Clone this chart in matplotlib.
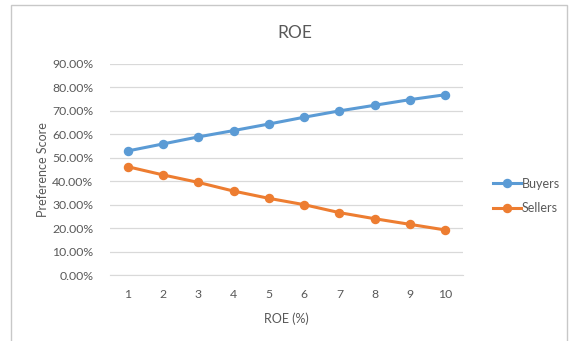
import matplotlib
matplotlib.use("Agg")
import matplotlib.pyplot as plt
from matplotlib.ticker import PercentFormatter
from matplotlib.patches import Rectangle

roe = [1, 2, 3, 4, 5, 6, 7, 8, 9, 10]
buyers = [0.529, 0.559, 0.589, 0.616, 0.644, 0.673, 0.700, 0.724, 0.748, 0.769]
sellers = [0.462, 0.427, 0.395, 0.358, 0.327, 0.300, 0.266, 0.240, 0.216, 0.192]
y_ticks = [0.0, 0.1, 0.2, 0.3, 0.4, 0.5, 0.6, 0.7, 0.8, 0.9]

plt.rcParams['font.family'] = ['Lato', 'DejaVu Sans']
grey_text = "#595959"

fig = plt.figure(figsize=(5.75, 3.41), dpi=100)
fig.patch.set_facecolor("white")

# chart frame (bottom edge runs off the image)
fig.patches.append(Rectangle((11 / 575, -0.1), 556 / 575, 1.1 - 5 / 341,
                             transform=fig.transFigure, fill=False,
                             edgecolor="#c8c8c8", linewidth=1.0))

ax = fig.add_axes([110 / 575, 66 / 341, 353 / 575, 211 / 341])
ax.plot(roe, buyers, color="#5B9BD5", lw=2.2, marker="o", ms=5.8, label="Buyers")
ax.plot(roe, sellers, color="#ED7D31", lw=2.2, marker="o", ms=5.8, label="Sellers")

ax.set_xlim(0.5, 10.5)
ax.set_ylim(0, 0.9)
ax.set_yticks(y_ticks)
ax.yaxis.set_major_formatter(PercentFormatter(1.0, decimals=2))
ax.set_xticks(roe)
ax.grid(axis="y", color="#d9d9d9", lw=0.9)
ax.set_axisbelow(True)
for side in ["top", "right", "left"]:
    ax.spines[side].set_visible(False)
ax.spines["bottom"].set_color("#d9d9d9")
ax.tick_params(length=0, labelsize=8.8, labelcolor=grey_text)
ax.tick_params(axis="x", pad=10)
ax.tick_params(axis="y", pad=12)

ax.set_xlabel("ROE (%)", fontsize=9, color=grey_text, labelpad=9)
ax.set_ylabel("Preference Score", fontsize=9, color=grey_text, labelpad=2)
fig.text(295 / 575, 1 - 33 / 341, "ROE", ha="center", va="center",
         fontsize=12.5, color=grey_text)

ax.legend(loc="center left", bbox_to_anchor=(482 / 575, 1 - 196 / 341),
          bbox_transform=fig.transFigure, frameon=False,
          fontsize=9, labelcolor=grey_text, handlelength=2.2, handletextpad=0.1,
          labelspacing=1.0)

fig.savefig("out.png", dpi=100)
